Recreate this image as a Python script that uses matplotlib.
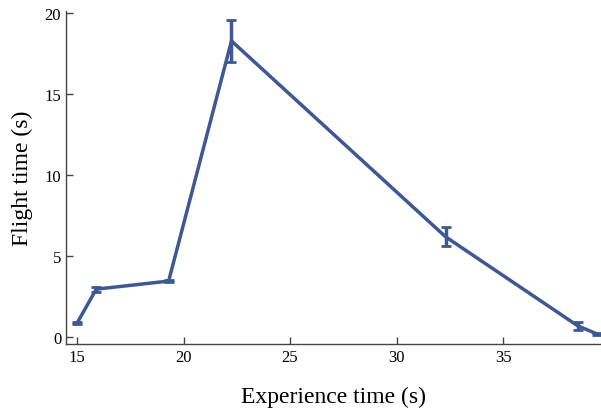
import matplotlib.pyplot as plt

# Datos
experience_time = [15.0, 15.9, 19.3, 22.25, 32.3, 38.5, 39.4]
flight_time = [0.86, 2.96, 3.46, 18.3, 6.2, 0.7, 0.2]
flight_err = [0.08, 0.15, 0.08, 1.3, 0.6, 0.25, 0.05]

plt.rcParams['font.family'] = ['Liberation Serif', 'DejaVu Serif']

fig = plt.figure(figsize=(6.01, 4.10), dpi=100)
ax = fig.add_axes([0.1098, 0.1585, 0.8902, 0.8122])

color = '#3E5893'
ax.errorbar(experience_time, flight_time, yerr=flight_err, color=color,
            linewidth=2.5, elinewidth=2.5, capsize=3.5, capthick=2)

ax.set_xlim(14.48, 39.6)
ax.set_ylim(-0.43, 20.15)
ax.set_xticks([15, 20, 25, 30, 35])
ax.set_yticks([0, 5, 10, 15, 20])

for side in ['top', 'right']:
    ax.spines[side].set_visible(False)
for side in ['left', 'bottom']:
    ax.spines[side].set_color('#444444')
    ax.spines[side].set_linewidth(1.0)

ax.tick_params(direction='in', length=5, width=1, labelsize=12, colors='#444444',
               labelcolor='black')

ax.set_xlabel('Experience time (s)', fontsize=17, labelpad=15)
ax.set_ylabel('Flight time (s)', fontsize=17, labelpad=8)

fig.savefig('out.png', dpi=100)
